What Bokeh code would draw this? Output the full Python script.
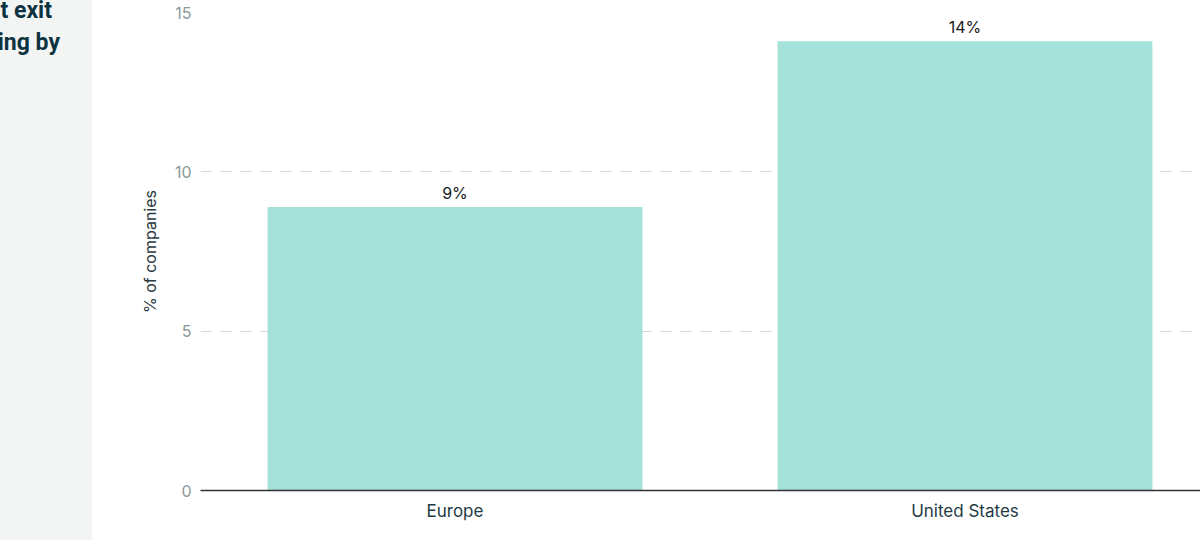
from bokeh.plotting import figure
from bokeh.layouts import row
from bokeh.models import (ColumnDataSource, Range1d, FixedTicker, Div)
from bokeh.core.properties import value
from bokeh.embed import file_html
from bokeh.resources import INLINE

# ---- data ----
regions = ["Europe", "United States"]
share_pct = [8.9, 14.1]
bar_labels = ["9%", "14%"]
y_ticks = [0, 5, 10, 15]
y_title = "% of companies"
title_lines = ["Share of companies that exit", "within ten years of first funding by"]

FONT = "Inter"
xs = list(range(len(regions)))
src = ColumnDataSource(dict(x=xs, top=share_pct, lab=bar_labels))

p = figure(width=1108, height=540, output_backend="svg", toolbar_location=None,
           x_range=Range1d(-0.499, 1.4618), y_range=Range1d(0, 15),
           min_border_left=108, min_border_right=0, min_border_top=12,
           min_border_bottom=50)
p.outline_line_color = None
p.background_fill_color = "white"
p.border_fill_color = "white"

p.vbar(x="x", top="top", width=0.735, source=src, fill_color="#a4e1d8", line_color=None)
p.text(x="x", y="top", text="lab", source=src, y_offset=-14, text_align="center",
       text_baseline="alphabetic", text_font=value(FONT), text_font_size="16px",
       text_color="#1a1a1a")

# y axis
p.yaxis.ticker = FixedTicker(ticks=y_ticks)
p.yaxis.axis_line_color = None
p.yaxis.major_tick_line_color = None
p.yaxis.minor_tick_line_color = None
p.yaxis.major_label_text_font = FONT
p.yaxis.major_label_text_font_size = "16px"
p.yaxis.major_label_text_color = "#8a9898"
p.yaxis.major_label_standoff = 3
p.yaxis.axis_label = y_title
p.yaxis.axis_label_text_font = FONT
p.yaxis.axis_label_text_font_style = "normal"
p.yaxis.axis_label_text_font_size = "16px"
p.yaxis.axis_label_text_color = "#2a3a40"
p.yaxis.axis_label_standoff = 12

# x axis
p.xaxis.ticker = FixedTicker(ticks=xs)
p.xaxis.major_label_overrides = {i: r for i, r in zip(xs, regions)}
p.xaxis.axis_line_color = "#333333"
p.xaxis.axis_line_width = 1.5
p.xaxis.major_tick_line_color = None
p.xaxis.minor_tick_line_color = None
p.xaxis.major_label_text_font = FONT
p.xaxis.major_label_text_font_size = "17px"
p.xaxis.major_label_text_color = "#1f3a44"
p.xaxis.major_label_standoff = 4

p.xgrid.grid_line_color = None
p.ygrid.grid_line_color = "#d9d9d9"
p.ygrid.grid_line_dash = "11 9"
p.ygrid.grid_line_width = 1

# left gray panel with cut-off title
html = ('<div style="position:relative;width:92px;height:540px;background:#f3f5f4;'
        'overflow:hidden;font-family:Roboto;font-weight:700;'
        'font-size:23px;line-height:32px;color:#0d3340;">'
        f'<div style="position:absolute;right:40px;top:-5px;white-space:nowrap;">{title_lines[0]}</div>'
        f'<div style="position:absolute;right:32px;top:27px;white-space:nowrap;">{title_lines[1]}</div>'
        '</div>')
panel = Div(text=html, width=92, height=540, margin=0)

layout = row(panel, p, spacing=0)
open("out.html", "w").write(file_html(layout, INLINE))
